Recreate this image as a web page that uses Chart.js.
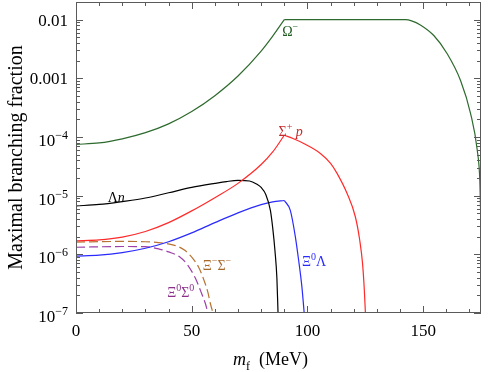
<!DOCTYPE html>
<html>
<head>
<meta charset="utf-8">
<script src="https://cdn.jsdelivr.net/npm/chart.js@4.4.1/dist/chart.umd.min.js"></script>
<style>
  html, body { margin: 0; padding: 0; background: #fff; }
</style>
</head>
<body>
<canvas id="chart" width="491" height="372"></canvas>
<script>
// m_f (MeV) sample points and maximal branching fractions.
// Curves with a sharp corner are kept as a rising and a falling piece.
const omegaRiseMf = [0, 10, 20, 30, 40, 50, 60, 70, 80, 85, 90];
const omegaRiseBr = [7.48e-5, 7.92e-5, 9.31e-5, 1.186e-4, 1.675e-4, 2.716e-4, 5.06e-4, 1.094e-3, 2.91e-3, 5.24e-3, 0.01];
const omegaFallMf = [90, 142.4, 145, 148.8, 154.6, 160.4, 166.2, 170.5, 173.4, 174.5, 175];
const omegaFallBr = [0.01, 0.01, 9.55e-3, 8.13e-3, 5.37e-3, 2.63e-3, 9.12e-4, 2.51e-4, 5.89e-5, 1.78e-5, 2.88e-6];

const sigmaPRiseMf = [0, 10, 20, 30, 40, 50, 60, 70, 80, 85, 90];
const sigmaPRiseBr = [1.70e-6, 1.76e-6, 1.97e-6, 2.45e-6, 3.47e-6, 5.50e-6, 9.23e-6, 1.62e-5, 3.39e-5, 5.56e-5, 1.07e-4];
const sigmaPFallMf = [90, 94, 98.4, 105.6, 110, 112.8, 117.1, 120.7, 122.6, 123.8, 124.6, 125.05];
const sigmaPFallBr = [1.07e-4, 9.33e-5, 7.76e-5, 5.25e-5, 3.55e-5, 2.40e-5, 1.10e-5, 4.37e-6, 1.74e-6, 7.08e-7, 2.40e-7, 1e-7];

const lambdaNMf = [0, 10, 20, 30, 40, 50, 60, 65, 70, 75, 78, 80, 82, 84, 85, 86, 86.8, 87.3];
const lambdaNBr = [6.68e-6, 7.08e-6, 7.94e-6, 9.12e-6, 1.12e-5, 1.38e-5, 1.62e-5, 1.74e-5, 1.82e-5, 1.78e-5, 1.58e-5, 1.38e-5, 1.05e-5, 5.62e-6, 2.82e-6, 1.12e-6, 3.98e-7, 1e-7];

const xiLamRiseMf = [0, 10, 20, 30, 40, 50, 60, 70, 80, 85, 90];
const xiLamRiseBr = [9.33e-7, 9.66e-7, 1.07e-6, 1.27e-6, 1.64e-6, 2.32e-6, 3.47e-6, 5.10e-6, 7.05e-6, 7.86e-6, 8.28e-6];
const xiLamFallMf = [90, 92.6, 94.7, 96.2, 97.6, 98.6];
const xiLamFallBr = [8.28e-6, 5.62e-6, 2.09e-6, 7.94e-7, 2.82e-7, 1e-7];

const xiMSigMf = [0, 20, 30, 38, 43, 47, 50.7, 53, 55.1, 57, 58, 59.2];
const xiMSigBr = [1.62e-6, 1.66e-6, 1.64e-6, 1.55e-6, 1.41e-6, 1.17e-6, 8.32e-7, 6.03e-7, 3.80e-7, 2.24e-7, 1.48e-7, 1e-7];

const xi0SigMf = [0, 20, 30, 36, 40, 45, 48, 51.5, 54.4, 56, 57];
const xi0SigBr = [1.32e-6, 1.36e-6, 1.35e-6, 1.23e-6, 1.10e-6, 8.91e-7, 6.76e-7, 3.98e-7, 2.09e-7, 1.41e-7, 1e-7];

// axis ticks
const xMajorTicks = [0, 50, 100, 150];
const yDecadeTicks = [1e-7, 1e-6, 1e-5, 1e-4, 1e-3, 1e-2];
const yTickBase = ['10', '10', '10', '10', '0.001', '0.01'];
const yTickExp  = ['−7', '−6', '−5', '−4', '', ''];

const SERIF = '"Liberation Serif", "DejaVu Serif", serif';

function pts(xs, ys) {
  return xs.map((x, i) => ({ x: x, y: ys[i] }));
}

// text pieces: [text, 'n'|'i', 'sup'|'sub'|undefined]
const curveLabels = [
  { m: 89.1, v: 5.35e-3, color: '#1f5a1f', parts: [['Ω', 'n'], ['−', 'n', 'sup']] },
  { m: 87.5, v: 1.06e-4, color: '#c42a2a', parts: [['Σ', 'n'], ['+', 'n', 'sup'], [' p', 'i']] },
  { m: 13.7, v: 7.8e-6,  color: '#000000', parts: [['Λ', 'n'], ['n', 'i']] },
  { m: 97.7, v: 6.3e-7,  color: '#2a2aff', parts: [['Ξ', 'n'], ['0', 'n', 'sup'], ['Λ', 'n']] },
  { m: 54.8, v: 5.4e-7,  color: '#a8682a', parts: [['Ξ', 'n'], ['−', 'n', 'sup'], ['Σ', 'n'], ['−', 'n', 'sup']] },
  { m: 39.4, v: 1.9e-7,  color: '#8b2f8b', parts: [['Ξ', 'n'], ['0', 'n', 'sup'], ['Σ', 'n'], ['0', 'n', 'sup']] }
];

function drawParts(ctx, x, y, parts, size, color) {
  ctx.save();
  ctx.fillStyle = color;
  ctx.textBaseline = 'alphabetic';
  ctx.textAlign = 'left';
  let cx = x;
  parts.forEach(p => {
    const small = p[2] === 'sup' || p[2] === 'sub';
    const fs = small ? Math.round(size * 0.68) : size;
    ctx.font = (p[1] === 'i' ? 'italic ' : '') + fs + 'px ' + SERIF;
    let dy = 0;
    if (p[2] === 'sup') dy = -size * 0.42;
    if (p[2] === 'sub') dy = size * 0.3;
    ctx.fillText(p[0], cx, y + dy);
    cx += ctx.measureText(p[0]).width;
  });
  ctx.restore();
  return cx - x;
}

const framePlugin = {
  id: 'frame',
  afterDraw(chart) {
    const ctx = chart.ctx;
    const a = chart.chartArea;
    const xs = chart.scales.x;
    const ys = chart.scales.y;
    ctx.save();
    ctx.strokeStyle = '#5a5a5a';
    ctx.lineWidth = 1;
    ctx.strokeRect(Math.round(a.left) + 0.5, Math.round(a.top) + 0.5,
      Math.round(a.right - a.left) - 1, Math.round(a.bottom - a.top) - 1);

    ctx.beginPath();
    for (let m = 0; m <= 175; m += 10) {
      const px = Math.round(xs.getPixelForValue(m)) + 0.5;
      const len = xMajorTicks.includes(m) ? 7 : 4;
      ctx.moveTo(px, a.bottom); ctx.lineTo(px, a.bottom - len);
      ctx.moveTo(px, a.top); ctx.lineTo(px, a.top + len);
    }
    for (let e = -7; e <= -2; e++) {
      for (let k = 1; k <= 9; k++) {
        const v = k * Math.pow(10, e);
        if (v > ys.max) break;
        const py = Math.round(ys.getPixelForValue(v)) + 0.5;
        const len = k === 1 ? 7 : 4;
        ctx.moveTo(a.left, py); ctx.lineTo(a.left + len, py);
        ctx.moveTo(a.right, py); ctx.lineTo(a.right - len, py);
      }
    }
    ctx.stroke();

    // y tick labels
    yDecadeTicks.forEach((v, i) => {
      const py = ys.getPixelForValue(v);
      const right = a.left - 8;
      if (yTickExp[i]) {
        ctx.font = '17px ' + SERIF;
        const wb = ctx.measureText(yTickBase[i]).width;
        ctx.font = '12px ' + SERIF;
        const we = ctx.measureText(yTickExp[i]).width;
        drawParts(ctx, right - wb - we, py + 9, [[yTickBase[i], 'n'], [yTickExp[i], 'n', 'sup']], 17, '#000');
      } else {
        ctx.font = '17px ' + SERIF;
        const w = ctx.measureText(yTickBase[i]).width;
        drawParts(ctx, right - w, py + 6, [[yTickBase[i], 'n']], 17, '#000');
      }
    });

    // curve labels
    curveLabels.forEach(l => {
      drawParts(ctx, xs.getPixelForValue(l.m), ys.getPixelForValue(l.v), l.parts, 14, l.color);
    });

    // axis titles
    drawParts(ctx, 233, 365, [['m', 'i'], ['f', 'n', 'sub'], ['  (MeV)', 'n']], 18, '#000');
    ctx.save();
    ctx.translate(22, (a.top + a.bottom) / 2);
    ctx.rotate(-Math.PI / 2);
    ctx.font = '20px ' + SERIF;
    ctx.fillStyle = '#000';
    ctx.textAlign = 'center';
    ctx.textBaseline = 'alphabetic';
    ctx.fillText('Maximal branching fraction', 0, 0);
    ctx.restore();
    ctx.restore();
  }
};

function series(xs, ys, color, dash) {
  return {
    data: pts(xs, ys),
    borderColor: color,
    borderWidth: 1.2,
    borderDash: dash || [],
    fill: false,
    pointRadius: 0,
    cubicInterpolationMode: 'monotone'
  };
}

new Chart(document.getElementById('chart'), {
  type: 'line',
  data: {
    datasets: [
      series(omegaRiseMf, omegaRiseBr, '#2d6a2d'),
      series(omegaFallMf, omegaFallBr, '#2d6a2d'),
      series(sigmaPRiseMf, sigmaPRiseBr, '#ff2a2a'),
      series(sigmaPFallMf, sigmaPFallBr, '#ff2a2a'),
      series(lambdaNMf, lambdaNBr, '#000000'),
      series(xiLamRiseMf, xiLamRiseBr, '#2a2aff'),
      series(xiLamFallMf, xiLamFallBr, '#2a2aff'),
      series(xiMSigMf, xiMSigBr, '#b87333', [9, 4]),
      series(xi0SigMf, xi0SigBr, '#9c3fa8', [9, 4])
    ]
  },
  options: {
    responsive: false,
    animation: false,
    devicePixelRatio: 1,
    layout: { padding: { top: 2, right: 10, left: 0, bottom: 0 } },
    plugins: { legend: { display: false }, tooltip: { enabled: false } },
    scales: {
      x: {
        type: 'linear', min: 0, max: 175,
        grid: { display: false, drawTicks: false },
        border: { display: false },
        ticks: {
          stepSize: 50, maxRotation: 0, padding: 8, color: '#000',
          font: { family: SERIF, size: 17 }
        },
        afterBuildTicks: s => { s.ticks = s.ticks.filter(t => xMajorTicks.includes(t.value)); },
        afterFit: s => { s.height = 59; }
      },
      y: {
        type: 'logarithmic', min: 1e-7, max: 0.02,
        grid: { display: false, drawTicks: false },
        border: { display: false },
        ticks: { display: false },
        afterFit: s => { s.width = 76; }
      }
    }
  },
  plugins: [framePlugin]
});
</script>
</body>
</html>
